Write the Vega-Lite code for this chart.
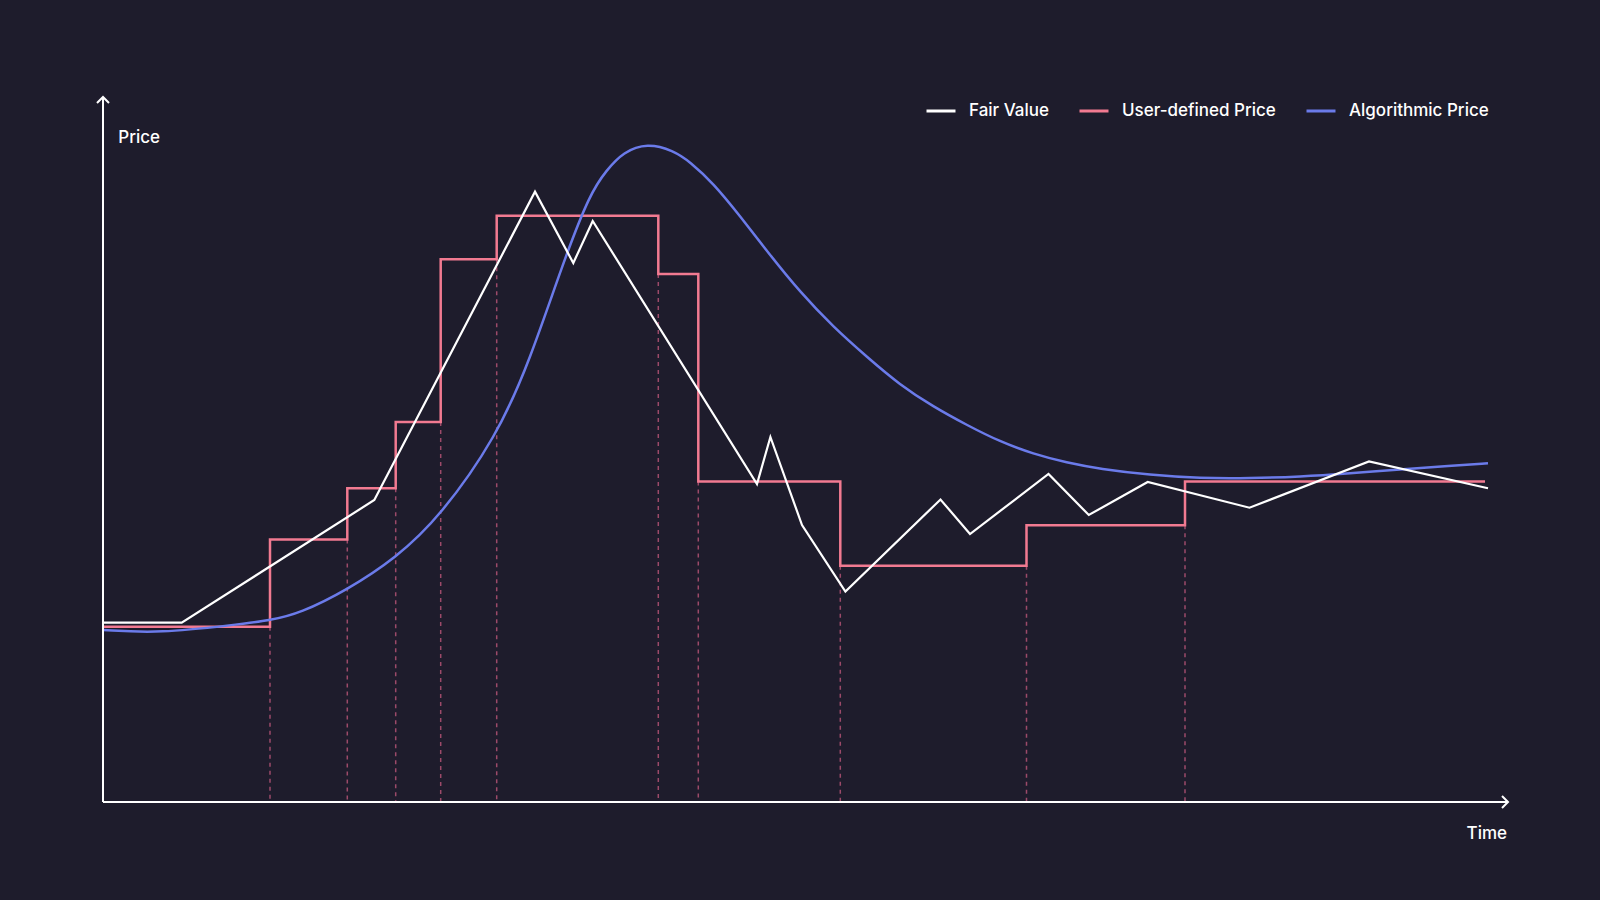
{
  "$schema": "https://vega.github.io/schema/vega-lite/v6.json",
  "width": 1405,
  "height": 705,
  "autosize": {"type": "none"},
  "padding": {"left": 103, "top": 97, "right": 92, "bottom": 98},
  "background": "#1e1c2c",
  "config": {
    "view": {"stroke": null},
    "font": "Inter"
  },
  "datasets": {
    "lines": [
      {"series": "Fair Value", "t": 0, "p": 179.3},
      {"series": "Fair Value", "t": 78.7, "p": 179.3},
      {"series": "Fair Value", "t": 271.3, "p": 302},
      {"series": "Fair Value", "t": 432, "p": 610.3},
      {"series": "Fair Value", "t": 470.3, "p": 539},
      {"series": "Fair Value", "t": 489.7, "p": 581},
      {"series": "Fair Value", "t": 654, "p": 318},
      {"series": "Fair Value", "t": 667.4, "p": 365},
      {"series": "Fair Value", "t": 699, "p": 277},
      {"series": "Fair Value", "t": 742.4, "p": 210.5},
      {"series": "Fair Value", "t": 837.5, "p": 302.5},
      {"series": "Fair Value", "t": 867, "p": 268},
      {"series": "Fair Value", "t": 945.5, "p": 328},
      {"series": "Fair Value", "t": 985.8, "p": 287},
      {"series": "Fair Value", "t": 1044.7, "p": 320},
      {"series": "Fair Value", "t": 1146.5, "p": 294.3},
      {"series": "Fair Value", "t": 1266, "p": 340.5},
      {"series": "Fair Value", "t": 1385, "p": 313.7},
      {"series": "User-defined Price", "t": 0, "p": 175.3},
      {"series": "User-defined Price", "t": 167, "p": 262.5},
      {"series": "User-defined Price", "t": 244.3, "p": 313.7},
      {"series": "User-defined Price", "t": 292.7, "p": 380},
      {"series": "User-defined Price", "t": 337.7, "p": 542.7},
      {"series": "User-defined Price", "t": 393.7, "p": 586.3},
      {"series": "User-defined Price", "t": 555.3, "p": 528},
      {"series": "User-defined Price", "t": 595.3, "p": 320.5},
      {"series": "User-defined Price", "t": 737.3, "p": 236.3},
      {"series": "User-defined Price", "t": 923.5, "p": 276.7},
      {"series": "User-defined Price", "t": 1082, "p": 320.5},
      {"series": "User-defined Price", "t": 1382, "p": 320.5},
      {"series": "Algorithmic Price", "t": 0, "p": 172},
      {"series": "Algorithmic Price", "t": 57, "p": 168.7},
      {"series": "Algorithmic Price", "t": 130, "p": 177},
      {"series": "Algorithmic Price", "t": 167, "p": 181.5},
      {"series": "Algorithmic Price", "t": 197, "p": 188.7},
      {"series": "Algorithmic Price", "t": 244, "p": 212},
      {"series": "Algorithmic Price", "t": 293, "p": 244},
      {"series": "Algorithmic Price", "t": 337, "p": 285.3},
      {"series": "Algorithmic Price", "t": 393.7, "p": 365.3},
      {"series": "Algorithmic Price", "t": 427, "p": 442},
      {"series": "Algorithmic Price", "t": 460.3, "p": 540},
      {"series": "Algorithmic Price", "t": 487, "p": 608.7},
      {"series": "Algorithmic Price", "t": 503.7, "p": 632},
      {"series": "Algorithmic Price", "t": 520.3, "p": 650},
      {"series": "Algorithmic Price", "t": 544.3, "p": 659},
      {"series": "Algorithmic Price", "t": 570.3, "p": 651.5},
      {"series": "Algorithmic Price", "t": 587, "p": 640.3},
      {"series": "Algorithmic Price", "t": 610.3, "p": 618.7},
      {"series": "Algorithmic Price", "t": 637, "p": 586},
      {"series": "Algorithmic Price", "t": 667, "p": 547},
      {"series": "Algorithmic Price", "t": 697, "p": 510},
      {"series": "Algorithmic Price", "t": 730.3, "p": 475},
      {"series": "Algorithmic Price", "t": 763.7, "p": 445.3},
      {"series": "Algorithmic Price", "t": 797, "p": 417},
      {"series": "Algorithmic Price", "t": 830.3, "p": 395.3},
      {"series": "Algorithmic Price", "t": 863.7, "p": 377},
      {"series": "Algorithmic Price", "t": 897, "p": 360.3},
      {"series": "Algorithmic Price", "t": 930.3, "p": 348},
      {"series": "Algorithmic Price", "t": 963.7, "p": 339.3},
      {"series": "Algorithmic Price", "t": 997, "p": 333},
      {"series": "Algorithmic Price", "t": 1047, "p": 327},
      {"series": "Algorithmic Price", "t": 1097, "p": 323.7},
      {"series": "Algorithmic Price", "t": 1147, "p": 323.7},
      {"series": "Algorithmic Price", "t": 1197, "p": 325.3},
      {"series": "Algorithmic Price", "t": 1247, "p": 328.7},
      {"series": "Algorithmic Price", "t": 1297, "p": 332.7},
      {"series": "Algorithmic Price", "t": 1347, "p": 336},
      {"series": "Algorithmic Price", "t": 1385, "p": 338.7}
    ],
    "changes": [
      {"t": 167, "p": 175.3},
      {"t": 244.3, "p": 262.5},
      {"t": 292.7, "p": 313.7},
      {"t": 337.7, "p": 380},
      {"t": 393.7, "p": 542.7},
      {"t": 555.3, "p": 528},
      {"t": 595.3, "p": 320.5},
      {"t": 737.3, "p": 236.3},
      {"t": 923.5, "p": 236.3},
      {"t": 1082, "p": 276.7}
    ],
    "axes": [
      {"axis": "x", "t": 0, "p": 0, "t2": 1405, "p2": 0},
      {"axis": "y", "t": 0, "p": 0, "t2": 0, "p2": 705}
    ],
    "arrows": [
      {"axis": "x", "t": 1405, "p": 0},
      {"axis": "y", "t": 0, "p": 705}
    ],
    "labels": [
      {"label": "Price", "t": 15.3, "p": 659.3},
      {"label": "Time", "t": 1404, "p": -37}
    ]
  },
  "layer": [
    {
      "data": {"name": "changes"},
      "mark": {"type": "rule", "stroke": "#9c4a69", "strokeWidth": 1.5, "strokeDash": [4, 4]},
      "encoding": {
        "x": {"field": "t", "type": "quantitative", "scale": {"domain": [0, 1405], "nice": false, "zero": false}, "axis": null},
        "y": {"field": "p", "type": "quantitative", "scale": {"domain": [0, 705], "nice": false, "zero": false}, "axis": null},
        "y2": {"datum": 0}
      }
    },
    {
      "data": {"name": "lines"},
      "transform": [{"filter": "datum.series === 'User-defined Price'"}],
      "mark": {"type": "line", "interpolate": "step-after", "strokeWidth": 2.5},
      "encoding": {
        "x": {"field": "t", "type": "quantitative"},
        "y": {"field": "p", "type": "quantitative"},
        "color": {"field": "series", "type": "nominal"}
      }
    },
    {
      "data": {"name": "lines"},
      "transform": [{"filter": "datum.series === 'Algorithmic Price'"}],
      "mark": {"type": "line", "interpolate": "basis", "strokeWidth": 2.5},
      "encoding": {
        "x": {"field": "t", "type": "quantitative"},
        "y": {"field": "p", "type": "quantitative"},
        "color": {"field": "series", "type": "nominal"}
      }
    },
    {
      "data": {"name": "lines"},
      "transform": [{"filter": "datum.series === 'Fair Value'"}],
      "mark": {"type": "line", "strokeWidth": 2.2},
      "encoding": {
        "x": {"field": "t", "type": "quantitative"},
        "y": {"field": "p", "type": "quantitative"},
        "color": {
          "field": "series",
          "type": "nominal",
          "scale": {
            "domain": ["Fair Value", "User-defined Price", "Algorithmic Price"],
            "range": ["#ffffff", "#f27a91", "#6b7bea"]
          },
          "legend": {
            "title": null,
            "orient": "none",
            "direction": "horizontal",
            "legendX": 822,
            "legendY": -2,
            "padding": 0,
            "symbolType": "stroke",
            "symbolSize": 841,
            "symbolStrokeWidth": 3,
            "labelColor": "#ffffff",
            "labelFont": "Inter",
            "labelFontSize": 17,
            "labelFontWeight": 500,
            "labelOffset": 12,
            "columnPadding": 24,
            "labelLimit": 400
          }
        }
      }
    },
    {
      "data": {"name": "axes"},
      "mark": {"type": "rule", "stroke": "#ffffff", "strokeWidth": 2},
      "encoding": {
        "x": {"field": "t", "type": "quantitative"},
        "y": {"field": "p", "type": "quantitative"},
        "x2": {"field": "t2"},
        "y2": {"field": "p2"}
      }
    },
    {
      "data": {"name": "arrows"},
      "mark": {"type": "point", "filled": false, "stroke": "#ffffff", "strokeWidth": 2, "size": 144, "opacity": 1},
      "encoding": {
        "x": {"field": "t", "type": "quantitative"},
        "y": {"field": "p", "type": "quantitative"},
        "shape": {
          "field": "axis",
          "type": "nominal",
          "scale": {"domain": ["x", "y"], "range": ["M -1 -1 L 0 0 L -1 1", "M -1 1 L 0 0 L 1 1"]},
          "legend": null
        }
      }
    },
    {
      "data": {"name": "labels"},
      "transform": [{"filter": "datum.label === 'Price'"}],
      "mark": {"type": "text", "color": "#ffffff", "font": "Inter", "fontSize": 17, "fontWeight": 500, "baseline": "alphabetic", "align": "left"},
      "encoding": {
        "x": {"field": "t", "type": "quantitative"},
        "y": {"field": "p", "type": "quantitative"},
        "text": {"field": "label"}
      }
    },
    {
      "data": {"name": "labels"},
      "transform": [{"filter": "datum.label === 'Time'"}],
      "mark": {"type": "text", "color": "#ffffff", "font": "Inter", "fontSize": 17, "fontWeight": 500, "baseline": "alphabetic", "align": "right"},
      "encoding": {
        "x": {"field": "t", "type": "quantitative"},
        "y": {"field": "p", "type": "quantitative"},
        "text": {"field": "label"}
      }
    }
  ]
}
